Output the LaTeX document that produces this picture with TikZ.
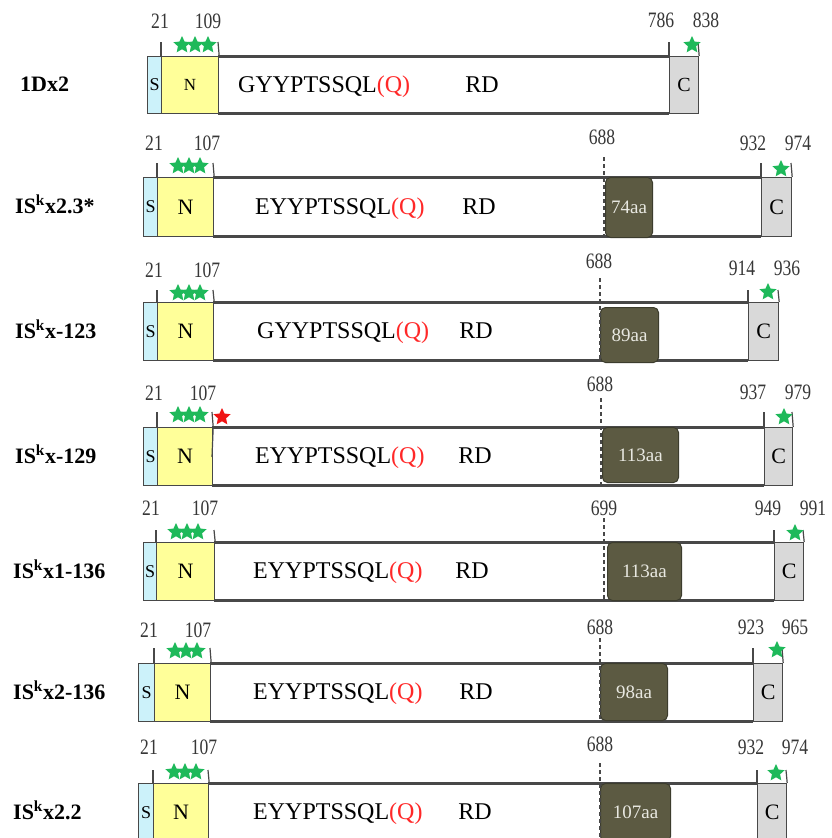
\documentclass[tikz,border=0pt]{standalone}
\usepackage{fontspec}
\setmainfont{Liberation Serif}
\newfontfamily\numfont[FakeStretch=0.8]{Liberation Serif}
\usetikzlibrary{shapes.geometric}
\definecolor{sfill}{RGB}{204,242,250}
\definecolor{nfill}{RGB}{255,255,153}
\definecolor{cfill}{RGB}{217,217,217}
\definecolor{edge}{RGB}{72,72,72}
\definecolor{boxolive}{RGB}{92,90,66}
\definecolor{boxedge}{RGB}{60,60,45}
\definecolor{aatext}{RGB}{232,232,225}
\definecolor{stargreen}{RGB}{30,185,90}
\definecolor{starred}{RGB}{240,20,20}
\definecolor{qred}{RGB}{255,40,40}
\definecolor{numgray}{RGB}{55,55,55}
\tikzset{
  mainfill/.style={draw=none, fill=white, inner sep=0, anchor=north west},
  mainline/.style={draw=edge, line width=3pt},
  sbox/.style={draw=edge, line width=1.2pt, fill=sfill, inner sep=0, anchor=north west},
  nbox/.style={draw=edge, line width=1.2pt, fill=nfill, inner sep=0, anchor=north west},
  cbox/.style={draw=edge, line width=1.2pt, fill=cfill, inner sep=0, anchor=north west},
  stext/.style={font=\fontsize{18}{18}\selectfont, inner sep=0},
  boxtext/.style={inner sep=0},
  rowlab/.style={font=\fontsize{22}{22}\selectfont\bfseries, anchor=base west, inner sep=0},
  seqlab/.style={font=\fontsize{24}{24}\selectfont, anchor=base west, inner sep=0},
  rdlab/.style={font=\fontsize{24}{24}\selectfont, anchor=base, inner sep=0},
  numlab/.style={font=\numfont\fontsize{22}{22}\selectfont, text=numgray, inner sep=0},
  gstar/.style={star, star points=5, star point ratio=2.1, fill=stargreen, draw=none, minimum size=18pt, inner sep=0},
  rstar/.style={gstar, fill=starred},
  tick/.style={draw=edge, line width=1.2pt},
  aabox/.style={draw=boxedge, line width=1pt, fill=boxolive, rounded corners=5pt, inner sep=0, anchor=north west},
  aatext/.style={font=\fontsize{19}{19}\selectfont, text=aatext, inner sep=0},
  dashline/.style={draw=edge, line width=1.5pt, dash pattern=on 4pt off 3pt}
}
\pgfkeys{/prow/.cd,
  yt/.store in=\Ryt, yb/.store in=\Ryb, xs/.store in=\Rxs, xn/.store in=\Rxn,
  xr/.store in=\Rxr, xc/.store in=\Rxc, xe/.store in=\Rxe, ty/.store in=\Rty,
  label/.store in=\Rlab, lx/.store in=\Rlx, seq/.store in=\Rseq, sx/.store in=\Rsx,
  rdx/.store in=\Rrdx, nfont/.store in=\Rnf, cfont/.store in=\Rcf}
\pgfkeys{/aap/.cd,
  dx/.store in=\Adx, dty/.store in=\Adty, bl/.store in=\Abl, br/.store in=\Abr,
  bt/.store in=\Abt, bb/.store in=\Abb, txt/.store in=\Atxt}
\newcommand\ProtRow[2]{%
  \pgfkeys{/prow/.cd, nfont=22, cfont=22, #2}%
  \pgfmathsetmacro\Rym{(\Ryt+\Ryb)/2}%
  \pgfmathsetmacro\Rlb{\Rym+7}%
  \pgfmathsetmacro\Rsb{\Rym+7.5}%
  \node[mainfill, minimum width={(\Rxc-\Rxr)*1pt}, minimum height={(\Ryb-\Ryt)*1pt}] (M#1) at (\Rxr,\Ryt) {};
  \draw[mainline] (M#1.north west) -- (M#1.north east);
  \draw[mainline] (M#1.south west) -- (M#1.south east);
  \node[sbox, minimum width={(\Rxn-\Rxs)*1pt}, minimum height={(\Ryb-\Ryt)*1pt}] (S#1) at (\Rxs,\Ryt) {};
  \node[stext] (St#1) at (S#1.center) {S};
  \node[nbox, minimum width={(\Rxr-\Rxn)*1pt}, minimum height={(\Ryb-\Ryt)*1pt}] (N#1) at (\Rxn,\Ryt) {};
  \node[boxtext, font=\fontsize{\Rnf}{\Rnf}\selectfont] (Nt#1) at (N#1.center) {N};
  \node[cbox, minimum width={(\Rxe-\Rxc)*1pt}, minimum height={(\Ryb-\Ryt)*1pt}] (C#1) at (\Rxc,\Ryt) {};
  \node[boxtext, font=\fontsize{\Rcf}{\Rcf}\selectfont] (Ct#1) at (C#1.center) {C};
  \node[rowlab] (L#1) at (\Rlx,\Rlb) {\Rlab};
  \node[seqlab] (Q#1) at (\Rsx,\Rsb) {\Rseq\textcolor{qred}{(Q)}};
  \node[rdlab] (RD#1) at (\Rrdx,\Rsb) {RD};
  \coordinate (ta#1) at (\Rxn,\Rty);
  \coordinate (tb#1) at (\Rxr,\Rty);
  \coordinate (tc#1) at (\Rxc,\Rty);
  \coordinate (td#1) at (\Rxe,\Rty);
  \draw[tick] (N#1.north west) -- (ta#1);
  \draw[tick] (N#1.north east) -- (tb#1);
  \draw[tick] (C#1.north west) -- (tc#1);
  \draw[tick] (C#1.north east) -- (td#1);
}
\newcommand\AaPart[2]{%
  \pgfkeys{/aap/.cd, #2}%
  \node[aabox, minimum width={(\Abr-\Abl)*1pt}, minimum height={(\Abb-\Abt)*1pt}] (B#1) at (\Abl,\Abt) {};
  \node[aatext] (Bt#1) at (B#1.center) {\Atxt};
  \coordinate (dt#1) at (\Adx,\Adty);
  \draw[dashline] (dt#1) -- (dt#1 |- M#1.south);
}
\begin{document}
\begin{tikzpicture}[x=1pt, y=-1pt]
\useasboundingbox (0,0) rectangle (832,838);
\fill[white] (0,0) rectangle (832,838);

% ---------- row 1
\ProtRow{1}{yt=56, yb=113, xs=147, xn=161, xr=218, xc=669, xe=698, ty=42,
  label=1Dx2, lx=20, seq=GYYPTSSQL, sx=238, rdx=482, nfont=17, cfont=20}
\node[numlab] (n1a) at (160,21) {21};
\node[numlab] (n1b) at (208,21) {109};
\node[numlab] (n1c) at (661,20) {786};
\node[numlab] (n1d) at (706,20) {838};
\node[gstar] (g1a) at (182,45) {};
\node[gstar] (g1b) at (195,45) {};
\node[gstar] (g1c) at (208,45) {};
\node[gstar] (g1d) at (692,45) {};

% ---------- row 2
\ProtRow{2}{yt=177, yb=236, xs=143, xn=157, xr=213, xc=761, xe=791, ty=163,
  label=IS\textsuperscript{k}x2.3*, lx=15, seq=EYYPTSSQL, sx=255, rdx=479}
\AaPart{2}{dx=604, dty=157, bl=605, br=652, bt=177, bb=237, txt=74aa}
\node[numlab] (n2a) at (154,143) {21};
\node[numlab] (n2b) at (207,143) {107};
\node[numlab] (n2c) at (602,137) {688};
\node[numlab] (n2d) at (753,143) {932};
\node[numlab] (n2e) at (798,143) {974};
\node[gstar] (g2a) at (178,166) {};
\node[gstar] (g2b) at (189,166) {};
\node[gstar] (g2c) at (200,166) {};
\node[gstar] (g2d) at (781,169) {};

% ---------- row 3
\ProtRow{3}{yt=302, yb=360, xs=143, xn=157, xr=213, xc=748, xe=778, ty=290,
  label=IS\textsuperscript{k}x-123, lx=15, seq=GYYPTSSQL, sx=257, rdx=476}
\AaPart{3}{dx=600, dty=278, bl=600, br=658, bt=307, bb=362, txt=89aa}
\node[numlab] (n3a) at (154,270) {21};
\node[numlab] (n3b) at (207,270) {107};
\node[numlab] (n3c) at (599,261) {688};
\node[numlab] (n3d) at (742,268) {914};
\node[numlab] (n3e) at (787,268) {936};
\node[gstar] (g3a) at (178,293) {};
\node[gstar] (g3b) at (189,293) {};
\node[gstar] (g3c) at (200,293) {};
\node[gstar] (g3d) at (768,292) {};

% ---------- row 4
\ProtRow{4}{yt=427, yb=485, xs=143, xn=157, xr=212, xc=764, xe=792, ty=412,
  label=IS\textsuperscript{k}x-129, lx=15, seq=EYYPTSSQL, sx=255, rdx=475}
\AaPart{4}{dx=601, dty=398, bl=602, br=678, bt=427, bb=482, txt=113aa}
\coordinate (x4) at (212,457);
\draw[tick] (N4.north east) -- (x4);
\node[numlab] (n4a) at (154,393) {21};
\node[numlab] (n4b) at (203,393) {107};
\node[numlab] (n4c) at (600,384) {688};
\node[numlab] (n4d) at (753,392) {937};
\node[numlab] (n4e) at (798,392) {979};
\node[gstar] (g4a) at (178,415) {};
\node[gstar] (g4b) at (189,415) {};
\node[gstar] (g4c) at (200,415) {};
\node[rstar] (r4) at (222,417) {};
\node[gstar] (g4d) at (784,417) {};

% ---------- row 5
\ProtRow{5}{yt=542, yb=600, xs=143, xn=156, xr=214, xc=774, xe=803, ty=530,
  label=IS\textsuperscript{k}x1-136, lx=13, seq=EYYPTSSQL, sx=253, rdx=472}
\AaPart{5}{dx=604, dty=518, bl=607, br=681, bt=542, bb=600, txt=113aa}
\node[numlab] (n5a) at (151,508) {21};
\node[numlab] (n5b) at (205,508) {107};
\node[numlab] (n5c) at (604,508) {699};
\node[numlab] (n5d) at (768,508) {949};
\node[numlab] (n5e) at (813,508) {991};
\node[gstar] (g5a) at (176,532) {};
\node[gstar] (g5b) at (187,532) {};
\node[gstar] (g5c) at (198,532) {};
\node[gstar] (g5d) at (795,533) {};

% ---------- row 6
\ProtRow{6}{yt=663, yb=721, xs=138, xn=154, xr=210, xc=753, xe=782, ty=648,
  label=IS\textsuperscript{k}x2-136, lx=13, seq=EYYPTSSQL, sx=253, rdx=476}
\AaPart{6}{dx=600, dty=638, bl=600, br=667, bt=663, bb=720, txt=98aa}
\node[numlab] (n6a) at (149,630) {21};
\node[numlab] (n6b) at (198,630) {107};
\node[numlab] (n6c) at (600,627) {688};
\node[numlab] (n6d) at (751,627) {923};
\node[numlab] (n6e) at (795,627) {965};
\node[gstar] (g6a) at (175,651) {};
\node[gstar] (g6b) at (186,651) {};
\node[gstar] (g6c) at (197,651) {};
\node[gstar] (g6d) at (777,650) {};

% ---------- row 7
\ProtRow{7}{yt=783, yb=841, xs=138, xn=153, xr=208, xc=757, xe=786, ty=770,
  label=IS\textsuperscript{k}x2.2, lx=13, seq=EYYPTSSQL, sx=253, rdx=475}
\AaPart{7}{dx=600, dty=763, bl=600, br=670, bt=783, bb=841, txt=107aa}
\node[numlab] (n7a) at (149,747) {21};
\node[numlab] (n7b) at (204,747) {107};
\node[numlab] (n7c) at (600,744) {688};
\node[numlab] (n7d) at (751,747) {932};
\node[numlab] (n7e) at (795,747) {974};
\node[gstar] (g7a) at (174,772) {};
\node[gstar] (g7b) at (185,772) {};
\node[gstar] (g7c) at (196,772) {};
\node[gstar] (g7d) at (776,773) {};
\end{tikzpicture}
\end{document}
